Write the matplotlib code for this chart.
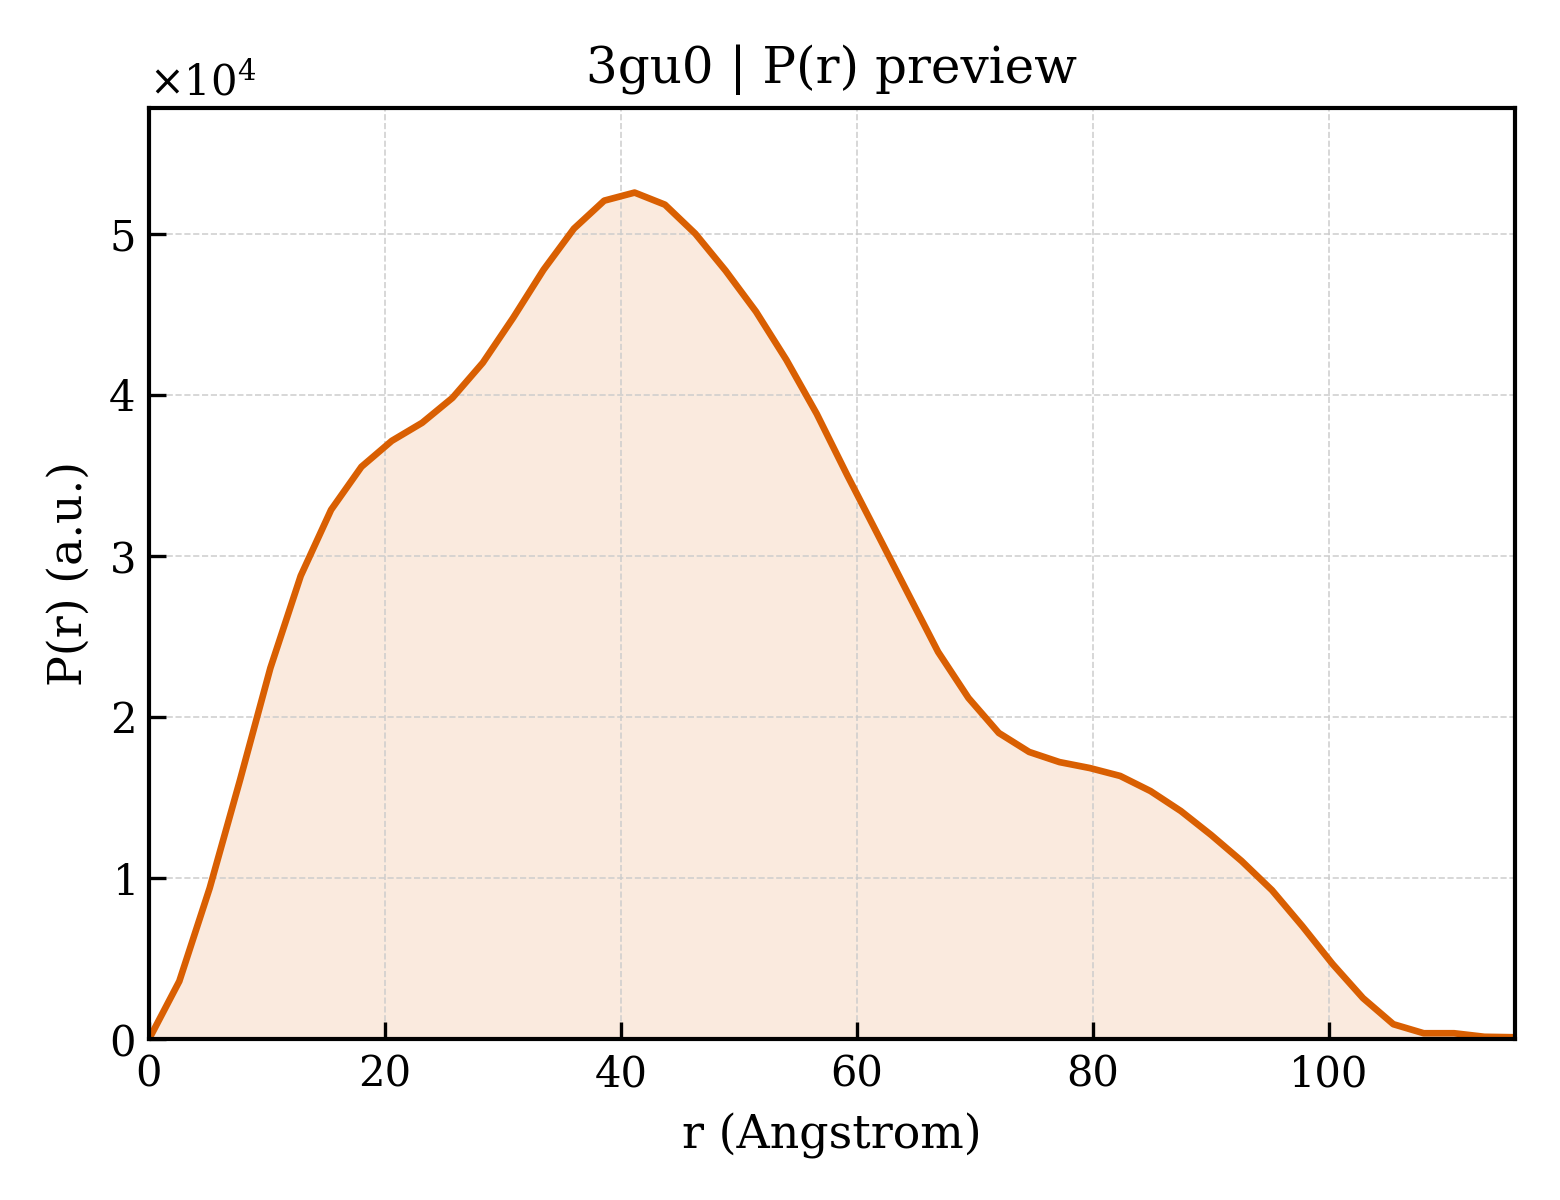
import numpy as np
import matplotlib
matplotlib.use("Agg")
import matplotlib.pyplot as plt

dmax = 115.76
r = np.linspace(0, dmax, 46)
pr = [0, 3600, 9380, 16090, 23040, 28760, 32860, 35530, 37140, 38260,
      39810, 41990, 44780, 47760, 50310, 52050, 52550, 51800, 50000, 47700,
      45160, 42170, 38820, 35030, 31370, 27700, 24040, 21180, 19010, 17830,
      17200, 16830, 16340, 15400, 14160, 12670, 11060, 9250, 7020, 4660,
      2550, 930, 370, 370, 150, 120]

plt.rcParams['font.family'] = ['DejaVu Serif']
plt.rcParams['mathtext.fontset'] = 'dejavuserif'

fig, ax = plt.subplots(figsize=(5.2, 4), dpi=300)
fig.subplots_adjust(left=0.0955, right=0.971, bottom=0.134, top=0.91)

color = '#D95F02'
ax.fill_between(r, pr, 0, color=color, alpha=0.13, linewidth=0)
ax.plot(r, pr, color=color, linewidth=1.6)

ax.set_xlim(0, dmax)
ax.set_ylim(0, 57800)
ax.set_xlabel('r (Angstrom)', fontsize=11)
ax.set_ylabel('P(r) (a.u.)', fontsize=11)
ax.set_title('3gu0 | P(r) preview', fontsize=12)
ax.ticklabel_format(axis='y', style='sci', scilimits=(0, 0), useMathText=True)
ax.yaxis.get_offset_text().set_fontsize(10)
ax.tick_params(direction='in', labelsize=10, length=4, width=0.8)
ax.grid(True, linestyle='--', linewidth=0.4, color='#cccccc', alpha=0.9)
for s in ax.spines.values():
    s.set_linewidth(1.0)

fig.savefig('out.png', dpi=300)
